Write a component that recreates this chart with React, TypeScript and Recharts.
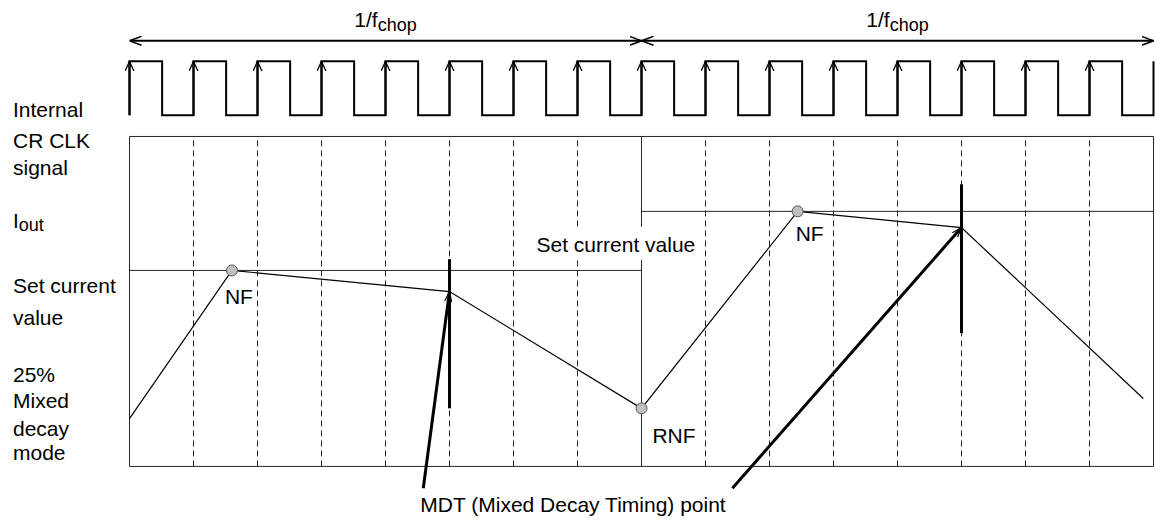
import {
  Line,
  XAxis,
  YAxis,
  Scatter,
  ComposedChart,
  ReferenceLine,
  ReferenceArea,
} from "recharts";

// time axis is in CR CLK periods (16 per two chop cycles), level axis is arbitrary (box = 0..100)
const CLK_RISE = [0, 1, 2, 3, 4, 5, 6, 7, 8, 9, 10, 11, 12, 13, 14, 15, 16];
const CLK_HIGH_TIME = 0.51;
const CLK_LOW = 106.45;
const CLK_HIGH = 122.8;

const CHOP_EDGES = [0, 8, 16];
const CHOP_ARROW_LEVEL = 129;
const CHOP_LABEL_TIMES = [4, 12];

const GRID_TIMES = [1, 2, 3, 4, 5, 6, 7, 9, 10, 11, 12, 13, 14, 15];
const SET_LEVELS = [
  { from: 0, to: 8, v: 59.4 },
  { from: 8, to: 16, v: 77.3 },
];

const I_OUT = [
  { t: 0, v: 14.5 },
  { t: 1.6, v: 59.4 },
  { t: 5, v: 53.0 },
  { t: 8, v: 17.6 },
  { t: 10.44, v: 77.3 },
  { t: 13, v: 72.4 },
  { t: 15.84, v: 20.6 },
];

const FEEDBACK_POINTS = [
  { t: 1.6, v: 59.4, name: "NF" },
  { t: 8, v: 17.6, name: "RNF" },
  { t: 10.44, v: 77.3, name: "NF" },
];

const MDT_SPANS = [
  { t: 5, lo: 17.6, hi: 62.8 },
  { t: 13, lo: 40.4, hi: 85.5 },
];
const MDT_ARROWS = [
  { from: { t: 4.59, v: -6.6 }, to: { t: 5, v: 53.0 } },
  { from: { t: 9.42, v: -6.6 }, to: { t: 13, v: 72.4 } },
];

const SET_VALUE_NOTE = [{ t: 7.6, v: 65, name: "Set current value" }];

const ROW_LABELS = [
  { text: "Internal" },
  { text: "CR CLK" },
  { text: "signal" },
  { text: "I", sub: "out" },
  { text: "Set current" },
  { text: "value" },
  { text: "25%" },
  { text: "Mixed" },
  { text: "decay" },
  { text: "mode" },
];
const ROW_BASELINES = [117, 147.5, 175, 227.5, 293, 325, 381.7, 408.3, 436, 459.5];

const FONT = "'Liberation Sans', Arial, sans-serif";
const GRID_COLOR = "#262626";
const FEEDBACK_LABEL_OFFSETS = [
  [7, 34],
  [32.5, 35],
  [12, 29.5],
];

const clockData = CLK_RISE.flatMap((t, i) =>
  i === CLK_RISE.length - 1
    ? [
        { t, v: CLK_LOW },
        { t, v: CLK_HIGH },
      ]
    : [
        { t, v: CLK_LOW },
        { t, v: CLK_HIGH },
        { t: t + CLK_HIGH_TIME, v: CLK_HIGH },
        { t: t + CLK_HIGH_TIME, v: CLK_LOW },
      ]
);

const chopLabels = CHOP_LABEL_TIMES.map((t) => ({ t, v: CHOP_ARROW_LEVEL }));

const renderFeedback = (props: any) => {
  const { cx, cy, payload } = props;
  const idx = FEEDBACK_POINTS.findIndex(
    (p) => p.t === payload.t && p.v === payload.v
  );
  const [dx, dy] = FEEDBACK_LABEL_OFFSETS[idx] || [0, 0];
  return (
    <g>
      <circle cx={cx} cy={cy} r={5.5} fill="#bfbfbf" stroke="#555" strokeWidth={1} />
      <text
        x={cx + dx}
        y={cy + dy}
        textAnchor="middle"
        fontFamily={FONT}
        fontSize={21}
        fill="#000"
      >
        {payload.name}
      </text>
    </g>
  );
};

const renderSetNote = (props: any) => {
  const { cx, cy, payload } = props;
  return (
    <g>
      <rect x={cx - 85} y={cy - 25} width={170} height={33} fill="#fff" />
      <text x={cx} y={cy} textAnchor="middle" fontFamily={FONT} fontSize={21} fill="#000">
        {payload.name}
      </text>
    </g>
  );
};

const renderChopLabel = (props: any) => {
  const { cx, cy } = props;
  return (
    <text x={cx} y={cy - 14} textAnchor="middle" fontFamily={FONT} fontSize={21} fill="#000">
      1/f
      <tspan fontSize={18} dy={4}>
        chop
      </tspan>
    </text>
  );
};

const App = () => {
  return (
    <div style={{ position: "absolute", left: 0, top: 0, width: 1156, height: 520, background: "#fff" }}>
      <ComposedChart
        width={1156}
        height={520}
        margin={{ top: 1.2, right: 2.5, bottom: 0.8, left: 129.5 }}
      >
        <defs>
          <marker
            id="chopHead"
            viewBox="0 0 12 10"
            refX={12}
            refY={5}
            markerWidth={12}
            markerHeight={10}
            markerUnits="userSpaceOnUse"
            orient="auto-start-reverse"
          >
            <path d="M0,0.5 L12,5 L0,9.5" fill="none" stroke="#000" strokeWidth={1.5} />
          </marker>
          <marker
            id="clkHead"
            viewBox="0 0 10 10"
            refX={10}
            refY={5}
            markerWidth={10}
            markerHeight={10}
            markerUnits="userSpaceOnUse"
            orient="auto"
          >
            <path d="M0,0.5 L10,5 L0,9.5" fill="none" stroke="#000" strokeWidth={1.3} />
          </marker>
          <marker
            id="mdtHead"
            viewBox="0 0 10 8"
            refX={10}
            refY={4}
            markerWidth={10}
            markerHeight={8}
            markerUnits="userSpaceOnUse"
            orient="auto"
          >
            <path d="M0,0.5 L10,4 L0,7.5" fill="none" stroke="#000" strokeWidth={1.2} />
          </marker>
        </defs>
        <XAxis dataKey="t" type="number" domain={[0, 16]} hide />
        <YAxis dataKey="v" type="number" domain={[-16, 141]} hide />

        <ReferenceArea x1={0} x2={16} y1={0} y2={100} fill="none" stroke={GRID_COLOR} strokeWidth={1} />
        {GRID_TIMES.map((t) => (
          <ReferenceLine
            key={`g${t}`}
            segment={[
              { x: t, y: 0 },
              { x: t, y: 100 },
            ]}
            stroke={GRID_COLOR}
            strokeWidth={1}
            strokeDasharray="6 4"
          />
        ))}
        <ReferenceLine
          segment={[
            { x: CHOP_EDGES[1], y: 0 },
            { x: CHOP_EDGES[1], y: 100 },
          ]}
          stroke={GRID_COLOR}
          strokeWidth={1}
        />
        {SET_LEVELS.map((s) => (
          <ReferenceLine
            key={`s${s.from}`}
            segment={[
              { x: s.from, y: s.v },
              { x: s.to, y: s.v },
            ]}
            stroke={GRID_COLOR}
            strokeWidth={1}
          />
        ))}

        {/* 1/fchop double arrows */}
        {CHOP_EDGES.slice(0, -1).map((t, i) => (
          <ReferenceLine
            key={`c${t}`}
            segment={[
              { x: t, y: CHOP_ARROW_LEVEL },
              { x: CHOP_EDGES[i + 1], y: CHOP_ARROW_LEVEL },
            ]}
            stroke="#000"
            strokeWidth={2}
            markerStart="url(#chopHead)"
            markerEnd="url(#chopHead)"
          />
        ))}

        {/* CR CLK */}
        <Line
          data={clockData}
          dataKey="v"
          type="linear"
          stroke="#000"
          strokeWidth={2}
          dot={false}
          activeDot={false}
          isAnimationActive={false}
        />
        {CLK_RISE.slice(0, -1).map((t) => (
          <ReferenceLine
            key={`r${t}`}
            segment={[
              { x: t, y: CLK_LOW },
              { x: t, y: CLK_HIGH },
            ]}
            stroke="#000"
            strokeWidth={2}
            markerEnd="url(#clkHead)"
          />
        ))}

        {/* Iout */}
        <Line
          data={I_OUT}
          dataKey="v"
          type="linear"
          stroke="#000"
          strokeWidth={1.2}
          dot={false}
          activeDot={false}
          isAnimationActive={false}
        />

        {MDT_SPANS.map((m) => (
          <ReferenceLine
            key={`m${m.t}`}
            segment={[
              { x: m.t, y: m.lo },
              { x: m.t, y: m.hi },
            ]}
            stroke="#000"
            strokeWidth={3}
          />
        ))}
        {MDT_ARROWS.map((a) => (
          <ReferenceLine
            key={`a${a.to.t}`}
            segment={[
              { x: a.from.t, y: a.from.v },
              { x: a.to.t, y: a.to.v },
            ]}
            stroke="#000"
            strokeWidth={3}
            markerEnd="url(#mdtHead)"
          />
        ))}

        <Scatter data={SET_VALUE_NOTE} dataKey="v" shape={renderSetNote} isAnimationActive={false} />
        <Scatter data={chopLabels} dataKey="v" shape={renderChopLabel} isAnimationActive={false} />
        <Scatter data={FEEDBACK_POINTS} dataKey="v" shape={renderFeedback} isAnimationActive={false} />
      </ComposedChart>

      <svg
        width={1156}
        height={520}
        style={{ position: "absolute", left: 0, top: 0, pointerEvents: "none" }}
      >
        {ROW_LABELS.map((r, i) => (
          <text key={i} x={13} y={ROW_BASELINES[i]} fontFamily={FONT} fontSize={21} fill="#000">
            {r.text}
            {r.sub && (
              <tspan fontSize={18} dy={3}>
                {r.sub}
              </tspan>
            )}
          </text>
        ))}
        <text x={573} y={512} textAnchor="middle" fontFamily={FONT} fontSize={21} fill="#000">
          MDT (Mixed Decay Timing) point
        </text>
      </svg>
    </div>
  );
};

export default App;
